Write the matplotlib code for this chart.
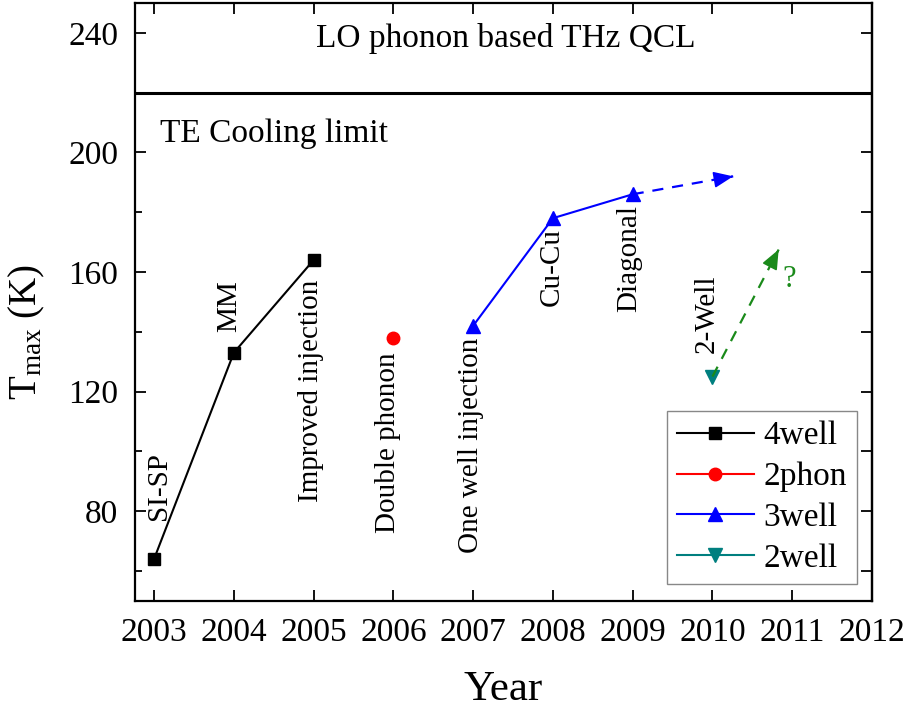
import matplotlib
matplotlib.use("Agg")
import matplotlib.pyplot as plt
from matplotlib.ticker import MultipleLocator

plt.rcParams['font.family'] = ['Liberation Serif', 'DejaVu Serif']
plt.rcParams['mathtext.fontset'] = 'custom'
plt.rcParams['mathtext.rm'] = 'Liberation Serif'
plt.rcParams['mathtext.it'] = 'Liberation Serif:italic'

# Maximum operating temperature of LO-phonon THz QCL designs by year
years_4well = [2003, 2004, 2005]
tmax_4well = [64, 133, 164]
years_2phon = [2006]
tmax_2phon = [138]
years_3well = [2007, 2008, 2009]
tmax_3well = [142, 178, 186]
years_2well = [2010]
tmax_2well = [125]

# Projected trends (start, tip)
trend_3well = [(2009, 186), (2010.26, 192)]
trend_2well = [(2010, 125), (2010.83, 167.5)]

# Design labels: (year, bottom of text in K, label)
design_labels = [
    (2003.06, 77, "SI-SP"),
    (2003.94, 140, "MM"),
    (2004.97, 83, "Improved injection"),
    (2005.93, 72.5, "Double phonon"),
    (2006.97, 66, "One well injection"),
    (2007.99, 148.5, "Cu-Cu"),
    (2008.95, 146.5, "Diagonal"),
    (2009.93, 133, "2-Well"),
]

te_limit = 220
year_ticks = list(range(2003, 2013))

fig = plt.figure(figsize=(9.07, 7.11), dpi=100)
ax = fig.add_axes([0.1488, 0.1551, 0.9614 - 0.1488, 0.9958 - 0.1551])

ax.plot(years_4well, tmax_4well, color='black', marker='s', markersize=9,
        linewidth=1.5, label='4well')
ax.plot(years_2phon, tmax_2phon, color='red', marker='o', markersize=9,
        linewidth=1.5, label='2phon')
ax.plot(years_3well, tmax_3well, color='blue', marker='^', markersize=10,
        linewidth=1.5, label='3well')
ax.plot(years_2well, tmax_2well, color='#007f7f', marker='v', markersize=10,
        linewidth=1.5, label='2well')


def dashed_arrow(start, tip, color):
    (x0, y0), (x1, y1) = start, tip
    ax.plot([x0, x1], [y0, y1], color=color, linestyle=(0, (5, 4)),
            linewidth=1.6, zorder=2)
    fx = x1 - (x1 - x0) * 0.02
    fy = y1 - (y1 - y0) * 0.02
    ax.annotate('', xy=(x1, y1), xytext=(fx, fy),
                arrowprops=dict(arrowstyle='-|>,head_length=1.2,head_width=0.5',
                                color=color, lw=1.2, shrinkA=0, shrinkB=0))


dashed_arrow(*trend_3well, color='blue')
dashed_arrow(*trend_2well, color='#1a8a1a')
ax.text(2010.96, 157.5, '?', color='#1a8a1a', fontsize=22,
        ha='center', va='center')

for x, y, s in design_labels:
    ax.text(x, y, s, rotation=90, ha='center', va='bottom', fontsize=21)

ax.axhline(te_limit, color='black', linewidth=2.2)
ax.text(2007.41, 238, 'LO phonon based THz QCL', ha='center', va='center',
        fontsize=24)
ax.text(2003.07, 203.5, 'TE Cooling limit', ha='left', va='baseline',
        fontsize=24)

ax.set_xlim(2002.76, 2012)
ax.set_ylim(50, 250)
ax.set_xticks(year_ticks)
ax.set_xticklabels([str(y) for y in year_ticks])
ax.yaxis.set_major_locator(MultipleLocator(40))
ax.yaxis.set_minor_locator(MultipleLocator(20))
ax.set_yticks([80, 120, 160, 200, 240])

ax.tick_params(axis='both', which='major', direction='in', length=8,
               width=1.3, labelsize=24)
ax.tick_params(axis='x', top=True, pad=12)
ax.tick_params(axis='y', pad=12)
ax.tick_params(axis='y', which='minor', direction='in', length=5, width=1.3)
for sp in ax.spines.values():
    sp.set_linewidth(1.6)

sec = ax.secondary_yaxis('right')
sec.set_yticks(list(range(60, 250, 20)))
sec.tick_params(direction='in', length=8, width=1.3, labelright=False)
sec.spines['right'].set_linewidth(1.6)

ax.set_xlabel('Year', fontsize=31, labelpad=16)
ax.text(-0.147, 0.45, r'T$_{\mathrm{max}}$ (K)', rotation=90,
        transform=ax.transAxes, ha='center', va='center', fontsize=28)

leg = ax.legend(loc='lower right', bbox_to_anchor=(0.98, 0.028),
                borderaxespad=0, fontsize=24, handlelength=2.3,
                handletextpad=0.3, labelspacing=0.31, borderpad=0.3,
                fancybox=False, framealpha=1, edgecolor='#888888')
leg.get_frame().set_linewidth(1.0)

fig.savefig('out.png', dpi=100)
